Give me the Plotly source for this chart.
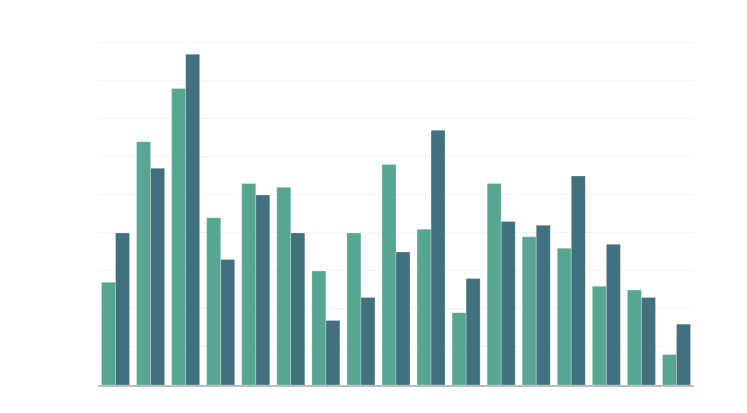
import plotly.graph_objects as go

# categories (no labels shown in the chart)
categories = list(range(1, 18))
series_a = [27, 64, 78, 44, 53, 52, 30, 40, 58, 41, 19, 53, 39, 36, 26, 25, 8]
series_b = [40, 57, 87, 33, 50, 40, 17, 23, 35, 67, 28, 43, 42, 55, 37, 23, 16]

fig = go.Figure()
fig.add_trace(go.Bar(x=categories, y=series_a, name="A",
                     marker=dict(color="#57a692", line=dict(color="rgba(255,255,255,0.25)", width=1))))
fig.add_trace(go.Bar(x=categories, y=series_b, name="B",
                     marker=dict(color="#41717f", line=dict(color="rgba(255,255,255,0.25)", width=1))))

# the page body adds an 8px offset, margins account for it
fig.update_layout(
    width=747, height=413,
    margin=dict(l=90, r=61, t=33, b=36),
    barmode="group", bargap=0.2, bargroupgap=0,
    plot_bgcolor="white", paper_bgcolor="white",
    showlegend=False,
)
fig.update_xaxes(showticklabels=False, showgrid=False, showline=True,
                 linecolor="#bdbdbd", linewidth=2, ticks="", range=[0.5, 17.5])
fig.update_yaxes(showticklabels=False, range=[0, 90.5], dtick=10,
                 gridcolor="#f4f4f4", zeroline=False, ticks="")

fig.write_html("out.html")
